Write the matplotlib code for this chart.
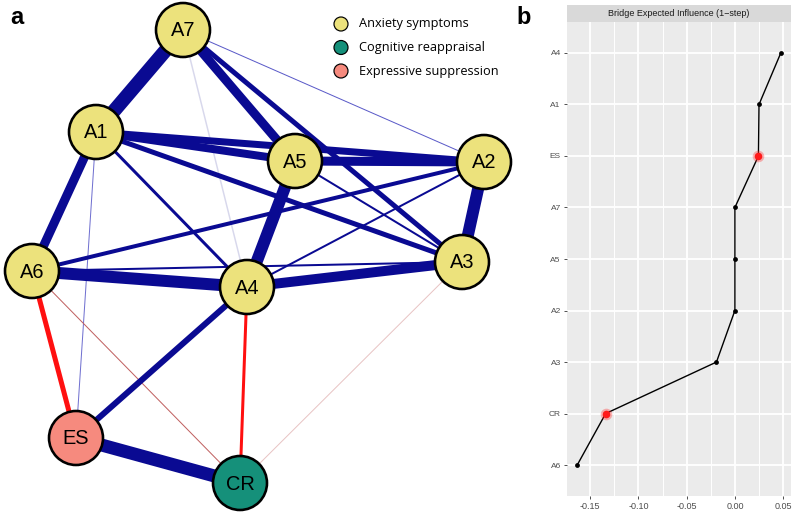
import matplotlib
matplotlib.use("Agg")
import matplotlib.pyplot as plt
from matplotlib.patches import Circle, Rectangle
import numpy as np

# Network nodes (layout positions in pixels of the left panel)
node_names = ["A1", "A2", "A3", "A4", "A5", "A6", "A7", "ES", "CR"]
node_x = [96, 484, 462, 247, 295, 32, 183, 76, 240]
node_y = [132, 162, 262, 287, 161, 271, 30, 438, 483]
node_group = ["anx", "anx", "anx", "anx", "anx", "anx", "anx", "es", "cr"]

# Edges: (from, to, width in px, colour)
edge_from = ["A7", "A7", "A7", "A7", "A7", "A1", "A1", "A1", "A1", "A1", "A1",
             "A5", "A5", "A5", "A6", "A6", "A6", "A4", "A4", "A2", "A4", "A4",
             "A6", "A6", "A3", "ES"]
edge_to = ["A1", "A5", "A3", "A2", "A4", "A5", "A2", "A3", "A4", "A6", "ES",
           "A4", "A2", "A3", "A2", "A3", "A4", "A3", "A2", "A3", "ES", "CR",
           "ES", "CR", "CR", "CR"]
edge_width = [14, 9, 5, 1, 1.5, 8, 7, 5, 3, 9, 1,
              12, 9, 2, 4, 2, 12, 10, 2, 12, 6, 3,
              5, 1, 1, 13]
edge_color = ["#0a0a92"] * 3 + ["#5a5ac8", "#d8d8ec"] + ["#0a0a92"] * 5 + ["#7070d0"] + \
             ["#0a0a92"] * 10 + ["#ff1010", "#ff1010", "#c06060", "#e8c4c4", "#0a0a92"]

group_colors = {"anx": "#ECE27C", "cr": "#15907A", "es": "#F68A7E"}
legend_labels = ["Anxiety symptoms", "Cognitive reappraisal", "Expressive suppression"]
legend_groups = ["anx", "cr", "es"]

# Bridge expected influence
bei_nodes = ["A4", "A1", "ES", "A7", "A5", "A2", "A3", "CR", "A6"]
bei_values = [0.0476, 0.025, 0.0244, 0.0, 0.0, 0.0, -0.0191, -0.134, -0.1635]
bei_highlight = ["ES", "CR"]
x_ticks = [-0.15, -0.10, -0.05, 0.00, 0.05]

W, H = 796, 515
fig = plt.figure(figsize=(W / 100, H / 100), dpi=100)
px = 0.72  # points per pixel

# ---- panel a: network ----
ax = fig.add_axes([0, 0, 520 / W, 1])
ax.set_xlim(0, 520)
ax.set_ylim(H, 0)
ax.axis("off")

pos = {n: (x, y) for n, x, y in zip(node_names, node_x, node_y)}
order = np.argsort(edge_width)
for i in order:
    x0, y0 = pos[edge_from[i]]
    x1, y1 = pos[edge_to[i]]
    ax.plot([x0, x1], [y0, y1], color=edge_color[i], lw=edge_width[i] * px,
            solid_capstyle="butt", zorder=1)

for n, g in zip(node_names, node_group):
    x, y = pos[n]
    ax.add_patch(Circle((x, y), 27, facecolor=group_colors[g], edgecolor="black",
                        lw=2.6 * px, zorder=3))
    ax.text(x, y + 1, n, ha="center", va="center", fontsize=20 * px,
            family="Liberation Sans", zorder=4)

for k, (lab, g) in enumerate(zip(legend_labels, legend_groups)):
    ly = 24 + k * 23.5
    ax.add_patch(Circle((341, ly), 7, facecolor=group_colors[g], edgecolor="black",
                        lw=1.2 * px, zorder=3))
    ax.text(359, ly, lab, ha="left", va="center", fontsize=12.8 * px,
            family="Open Sans", zorder=4)

fig.text(10 / W, 1 - 18 / H, "a", fontsize=17, fontweight="bold",
         family="Liberation Sans", va="center", ha="left")
fig.text(516 / W, 1 - 18 / H, "b", fontsize=17, fontweight="bold",
         family="Liberation Sans", va="center", ha="left")

# ---- panel b: bridge expected influence ----
p_left, p_right, p_top, p_bot = 567, 791, 22, 496
bx = fig.add_axes([p_left / W, (H - p_bot) / H, (p_right - p_left) / W, (p_bot - p_top) / H])
bx.set_facecolor("#EBEBEB")
ypos = np.arange(len(bei_nodes))
span = max(bei_values) - min(bei_values)
bx.set_xlim(min(bei_values) - 0.05 * span, max(bei_values) + 0.05 * span)
bx.set_ylim(len(bei_nodes) - 1 + 0.6, -0.6)
bx.set_xticks(x_ticks)
bx.set_xticklabels(["%.2f" % t if t != 0 else "0.00" for t in x_ticks])
bx.set_xticks(np.array(x_ticks[:-1]) + 0.025, minor=True)
bx.set_yticks(ypos)
bx.set_yticklabels(bei_nodes)
bx.grid(True, which="major", color="white", lw=1.3)
bx.grid(True, which="minor", axis="x", color="white", lw=0.7)
bx.set_axisbelow(True)
for s in bx.spines.values():
    s.set_visible(False)
bx.tick_params(axis="both", which="major", length=2.5, width=0.6, color="#333333",
               labelsize=6, labelcolor="#4D4D4D", pad=2)
bx.tick_params(axis="x", labelsize=6.5)
bx.tick_params(which="minor", length=0)
for lab in bx.get_xticklabels() + bx.get_yticklabels():
    lab.set_family("Liberation Sans")

bx.plot(bei_values, ypos, color="black", lw=1.0, zorder=2)
for v, y, n in zip(bei_values, ypos, bei_nodes):
    if n in bei_highlight:
        bx.scatter(v, y, s=70, color="#ff3030", alpha=0.35, lw=0, zorder=3)
        bx.scatter(v, y, s=30, color="#ff1a1a", lw=0, zorder=4)
    else:
        bx.scatter(v, y, s=12, color="black", lw=0, zorder=4)

sx = fig.add_axes([p_left / W, (H - p_top) / H, (p_right - p_left) / W, 17 / H])
sx.set_xlim(0, 1)
sx.set_ylim(0, 1)
sx.add_patch(Rectangle((0, 0), 1, 1, facecolor="#D9D9D9", edgecolor="none"))
sx.axis("off")
sx.text(0.5, 0.5, "Bridge Expected Influence (1\u2212step)", ha="center", va="center",
        fontsize=6.5, color="#1A1A1A", family="Liberation Sans")

fig.savefig("out.png", dpi=100)
